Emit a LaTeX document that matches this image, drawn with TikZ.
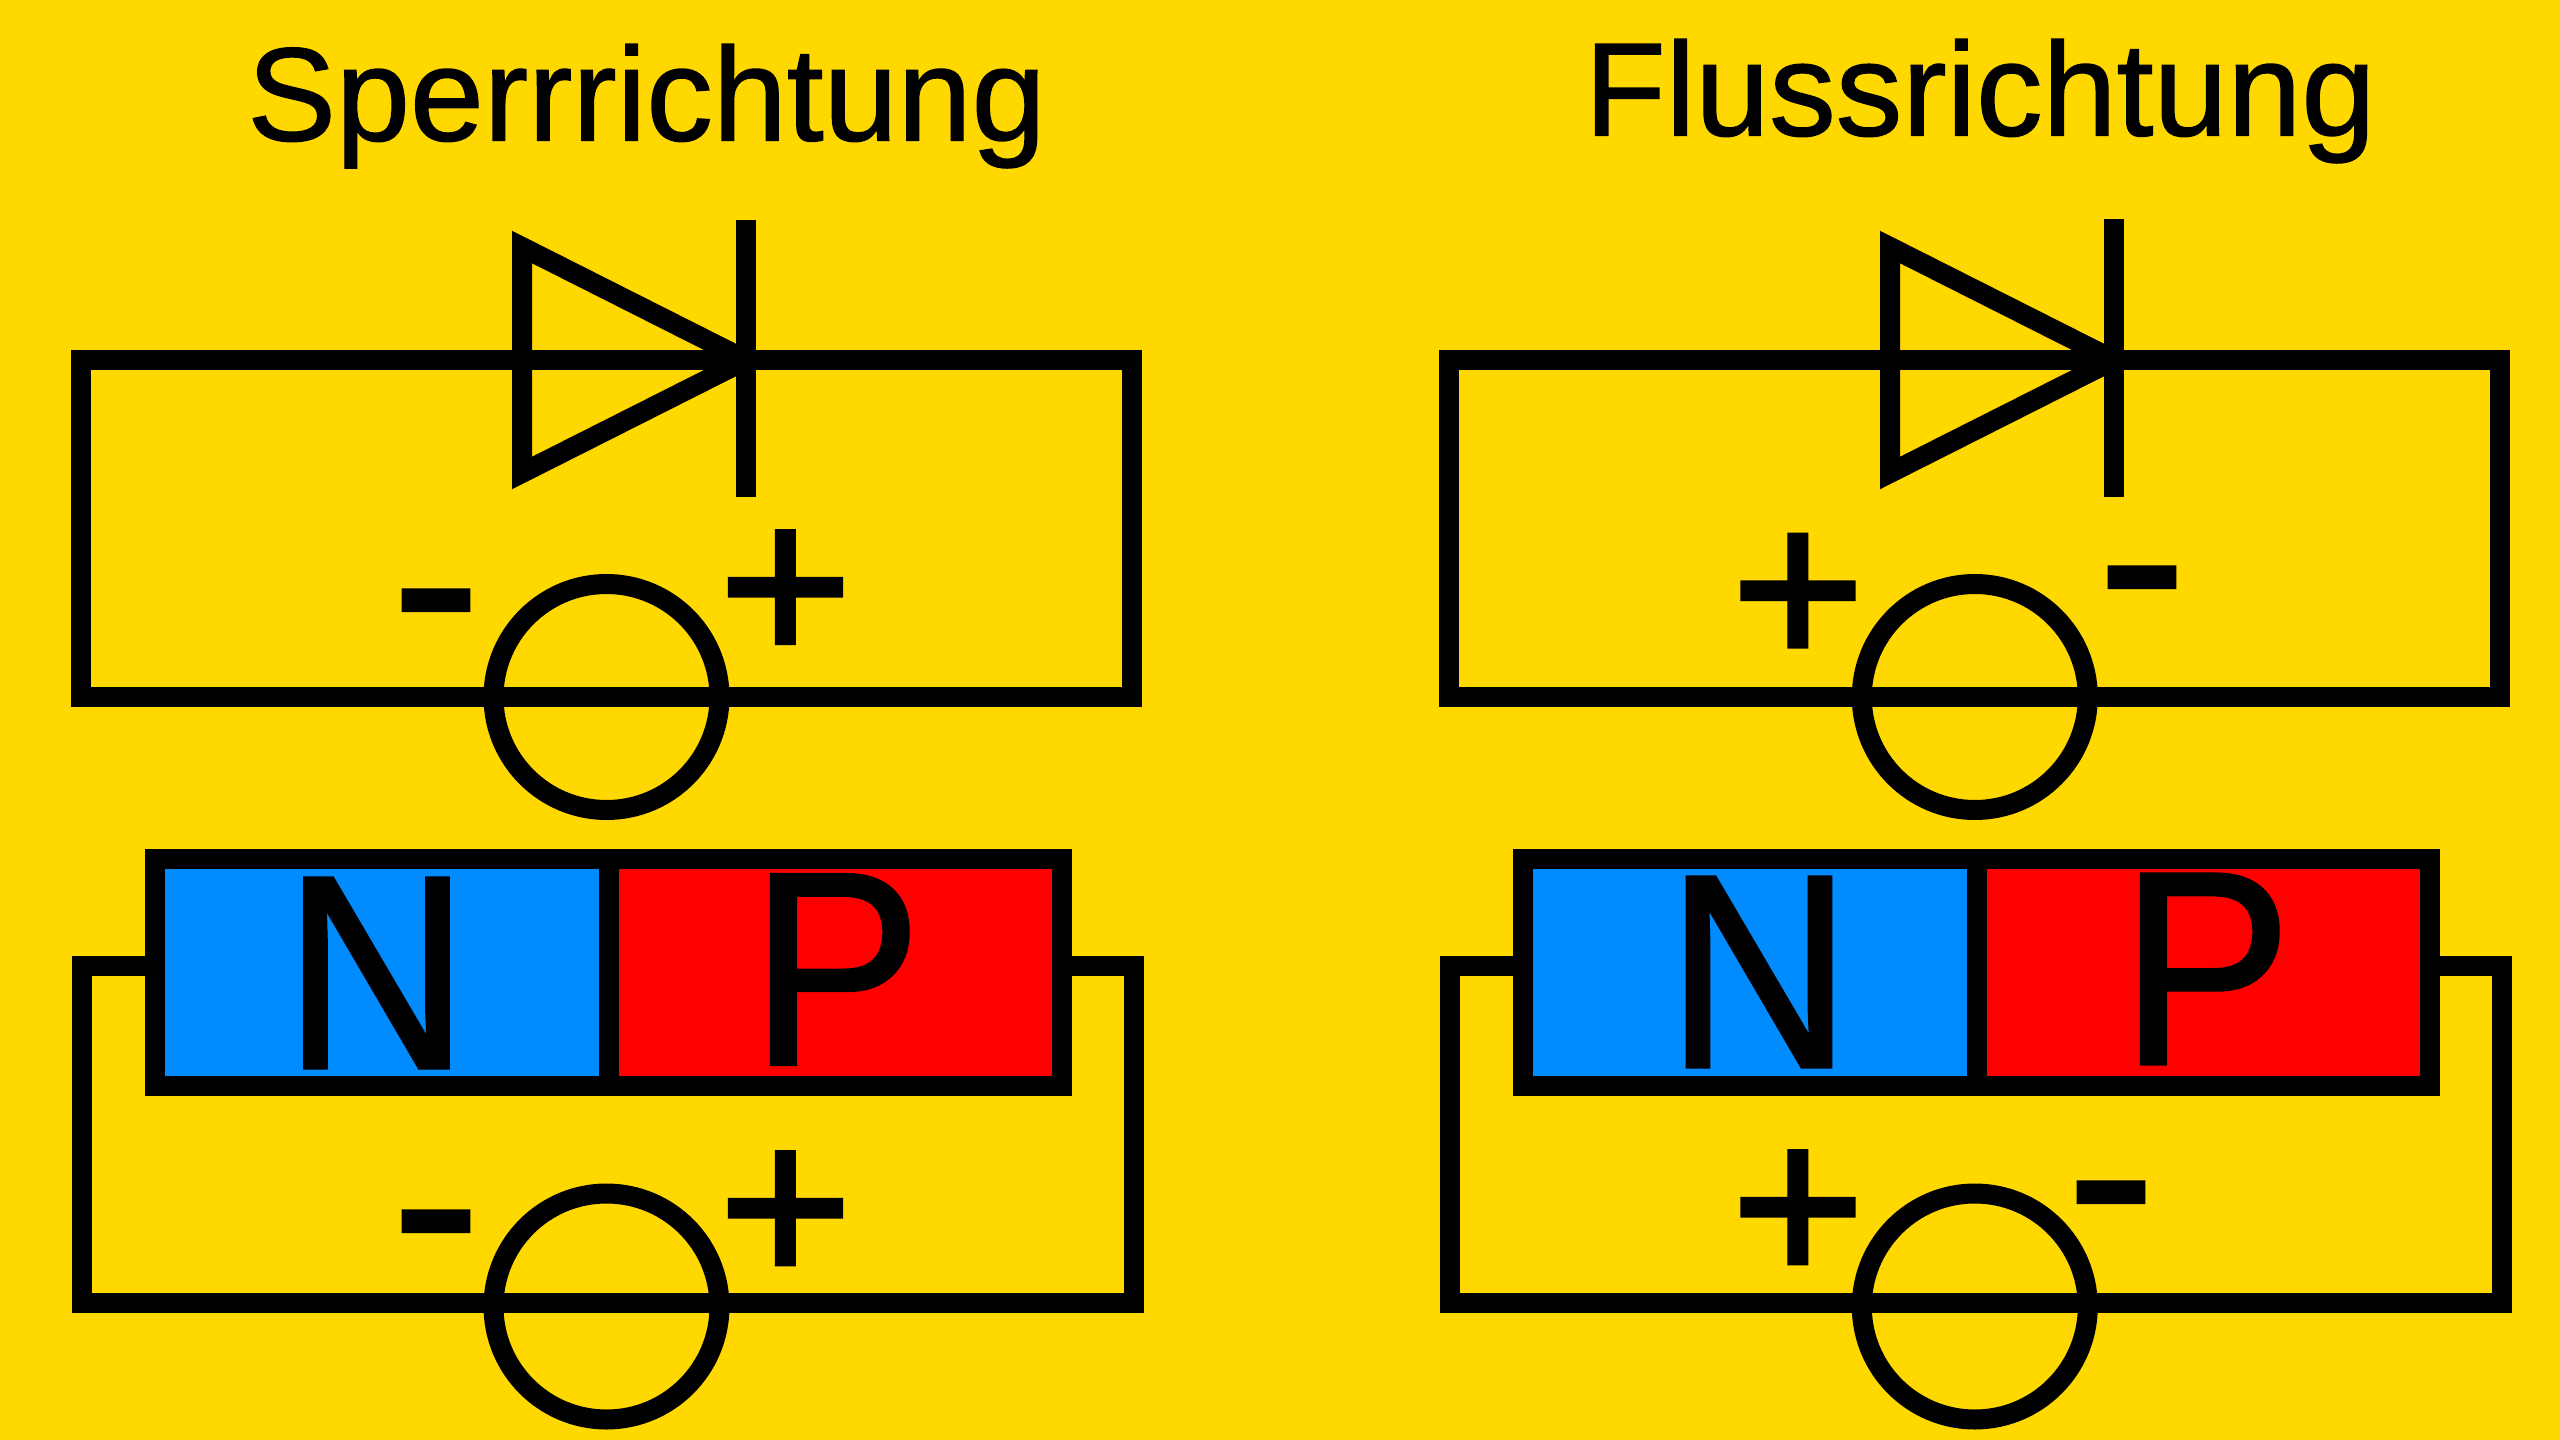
\documentclass[tikz,border=0pt]{standalone}
\usepackage{fontspec}
\setmainfont{Liberation Sans}
\newfontfamily\titlefont[FakeBold=1]{Liberation Sans}
\newfontfamily\plusfont[FakeBold=2]{Liberation Sans}
\newfontfamily\hyphenfont[FakeBold=1]{Liberation Sans}
\newfontfamily\capfont[FakeStretch=0.93,FakeBold=1.2]{Liberation Sans}
\definecolor{bg}{RGB}{255,216,0}
\definecolor{nblue}{RGB}{0,140,255}
\definecolor{pred}{RGB}{255,0,0}
\newcommand{\fsz}[1]{\fontsize{#1}{#1}\selectfont}
\tikzset{
  wire/.style={draw=black,line width=20pt,line cap=butt,line join=miter,miter limit=20},
  srcring/.style={circle,draw=black,line width=20pt,minimum size=226pt,inner sep=0pt,outer sep=0pt},
  glyph/.style={inner sep=0pt,outer sep=0pt,anchor=base,text=black},
  titletext/.style={glyph,font=\titlefont\fsz{133}},
  signtext/.style={glyph,font=\plusfont\fsz{228}},
  hyphentext/.style={glyph,font=\hyphenfont\fsz{270}},
  dopetext/.style={glyph,font=\capfont\fsz{276}},
  nzone/.style={rectangle,draw=black,fill=nblue,line width=20pt,inner sep=0pt,outer sep=0pt,minimum height=227pt},
  pzone/.style={rectangle,draw=black,fill=pred,line width=20pt,inner sep=0pt,outer sep=0pt,minimum height=227pt}
}
\begin{document}
\begin{tikzpicture}[x=1pt,y=-1pt]
\useasboundingbox (0,0) rectangle (2560,1440);
\fill[bg] (0,0) rectangle (2560,1440);
% titles
\node[titletext] (t1) at (646.5,140.5) {Sperrrichtung};
\node[titletext] (t2) at (1980,135.5) {Flussrichtung};
% ---------- left top circuit
\coordinate (a1) at (81,360); \coordinate (a2) at (1132,360);
\coordinate (a3) at (1132,697); \coordinate (a4) at (81,697);
\draw[wire] (a1) -- (a2) -- (a3) -- (a4) -- cycle;
\coordinate (d1a) at (522,247); \coordinate (d1b) at (746,360); \coordinate (d1c) at (522,473);
\draw[wire] (d1a) -- (d1b) -- (d1c) -- cycle;
\coordinate (b1a) at (746,220); \coordinate (b1b) at (746,497);
\draw[wire] (b1a) -- (b1b);
\node[srcring] (s1) at (606.5,697) {};
\node[hyphentext] (m1) at (436,672) {-};
\node[signtext] (p1) at (785.5,663) {+};
% ---------- right top circuit
\coordinate (c1) at (1449,360); \coordinate (c2) at (2499.7,360);
\coordinate (c3) at (2499.7,697); \coordinate (c4) at (1449,697);
\draw[wire] (c1) -- (c2) -- (c3) -- (c4) -- cycle;
\coordinate (d2a) at (1890,247); \coordinate (d2b) at (2114,360); \coordinate (d2c) at (1890,473);
\draw[wire] (d2a) -- (d2b) -- (d2c) -- cycle;
\coordinate (b2a) at (2114,219); \coordinate (b2b) at (2114,496.5);
\draw[wire] (b2a) -- (b2b);
\node[srcring] (s2) at (1974.8,697) {};
\node[signtext] (p2) at (1798,666.5) {+};
\node[hyphentext] (m2) at (2142,649) {-};
% ---------- left bottom circuit
\coordinate (e1) at (155,966); \coordinate (e2) at (82,966);
\coordinate (e3) at (82,1303); \coordinate (e4) at (1134,1303);
\coordinate (e5) at (1134,966); \coordinate (e6) at (1062,966);
\draw[wire] (e1) -- (e2) -- (e3) -- (e4) -- (e5) -- (e6);
\node[nzone,minimum width=454pt] (n1) at (382,972.5) {};
\node[pzone,minimum width=453pt] (r1) at (835.5,972.5) {};
\node[dopetext] (nt1) at (376.5,1068) {N};
\node[dopetext] (pt1) at (836,1064.5) {P};
\node[srcring] (s3) at (606.5,1306.5) {};
\node[hyphentext] (m3) at (436,1293) {-};
\node[signtext] (p3) at (785.5,1284) {+};
% ---------- right bottom circuit
\coordinate (f1) at (1522.7,966); \coordinate (f2) at (1450,966);
\coordinate (f3) at (1450,1303); \coordinate (f4) at (2502,1303);
\coordinate (f5) at (2502,966); \coordinate (f6) at (2430,966);
\draw[wire] (f1) -- (f2) -- (f3) -- (f4) -- (f5) -- (f6);
\node[nzone,minimum width=454pt] (n2) at (1749.7,972.5) {};
\node[pzone,minimum width=453.3pt] (r2) at (2203.3,972.5) {};
\node[dopetext] (nt2) at (1759,1067) {N};
\node[dopetext] (pt2) at (2206,1064) {P};
\node[srcring] (s4) at (1974.8,1306.5) {};
\node[signtext] (p4) at (1798,1283) {+};
\node[hyphentext] (m4) at (2111,1264) {-};
\end{tikzpicture}
\end{document}
